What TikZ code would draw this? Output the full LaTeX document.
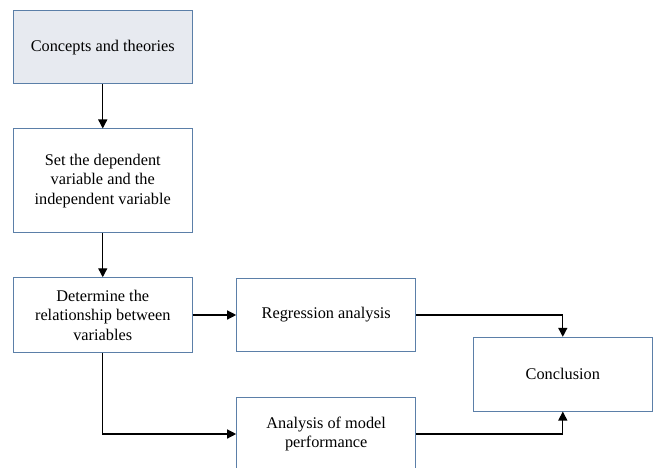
\documentclass[tikz,border=0pt]{standalone}
\usepackage{fontspec}
\setmainfont{Liberation Serif}
\usetikzlibrary{arrows.meta}
\definecolor{boxline}{HTML}{5B7FA8}
\definecolor{boxfill}{HTML}{E7EAF0}
\begin{document}
\begin{tikzpicture}[x=1pt,y=-1pt,
  box/.style={draw=boxline,line width=1pt,fill=white,minimum width=178.5pt,
    align=center,font=\fontsize{16.3}{19.5}\selectfont,inner sep=2pt},
  conn/.style={line width=1.3pt,-{Triangle[length=9pt,width=9pt]}}]
\useasboundingbox (0,0) rectangle (654,468);
\clip (0,0) rectangle (654,468);
\node[box,fill=boxfill,minimum height=73.5pt] (b1) at (102.75,47.25) {Concepts and theories};
\node[box,minimum height=104pt] (b2) at (102.75,181) {Set the dependent\\variable and the\\independent variable};
\node[box,minimum height=74.5pt] (b3) at (102.75,315) {Determine the\\relationship between\\variables};
\node[box,minimum width=179pt,minimum height=73.5pt] (b4) at (326.2,315) {Regression analysis};
\node[box,minimum width=179pt,minimum height=74pt] (b5) at (326.2,434) {Analysis of model\\performance};
\node[box,minimum width=179pt,minimum height=73.7pt] (b6) at (562.8,374.2) {Conclusion};
\draw[conn] (b1) -- (b2);
\draw[conn] (b2) -- (b3);
\draw[conn] (b3.east) -- (b4.west);
\draw[conn] (b3.south) |- (b5.west);
\draw[conn] (b4.east) -| (b6.north);
\draw[conn] (b5.east) -| (b6.south);
\end{tikzpicture}
\end{document}
